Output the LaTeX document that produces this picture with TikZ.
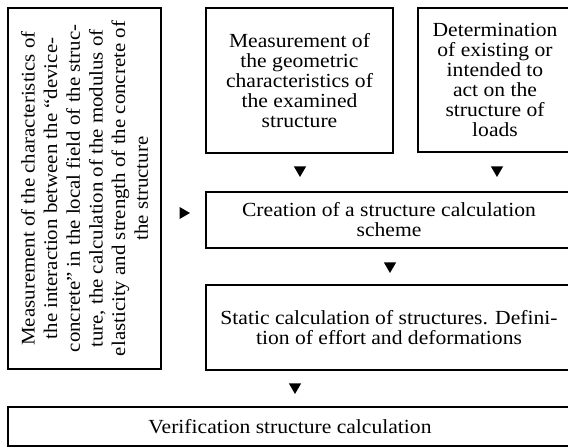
\documentclass[tikz,border=0pt]{standalone}
\usepackage{fontspec}
\setmainfont{Liberation Serif}[FakeStretch=1.08]
\usetikzlibrary{shapes.geometric}

\tikzset{
  stepbox/.style={draw, line width=2.2pt, align=center, inner sep=0pt,
    font=\fontsize{15}{15}\selectfont},
  tri/.style={fill, regular polygon, regular polygon sides=3, inner sep=0pt,
    minimum size=10.5pt, shape border rotate=180},
}

\begin{document}
\begin{tikzpicture}[x=0.75pt,y=-0.75pt]
    \useasboundingbox (0,0) rectangle (568,448);

    % boxes
    \node[stepbox, rotate=90, minimum width={361*0.75pt}, minimum height={153*0.75pt},
      font=\fontsize{14.5}{17}\selectfont]
      (meas) at (84.5,188.5) {Measurement of the characteristics of\\
      the interaction between the ``device-\\
      concrete'' in the local field of the struc-\\
      ture, the calculation of the modulus of\\
      elasticity and strength of the concrete of\\
      the structure};
    \node[stepbox, minimum width={187*0.75pt}, minimum height={145*0.75pt}]
      (geom) at (299.5,80.5) {Measurement of\\the geometric\\characteristics of\\the examined\\structure};
    \node[stepbox, minimum width={154*0.75pt}, minimum height={144*0.75pt}]
      (load) at (495,80) {Determination\\of existing or\\intended to\\act on the\\structure of\\loads};
    \node[stepbox, minimum width={366*0.75pt}, minimum height={56*0.75pt}]
      (scheme) at (389,220) {Creation of a structure calculation\\scheme};
    \node[stepbox, minimum width={366*0.75pt}, minimum height={85*0.75pt}]
      (static) at (389,327.5) {Static calculation of structures. Defini-\\tion of effort and deformations};
    \node[stepbox, minimum width={564*0.75pt}, minimum height={39*0.75pt}]
      (verif) at (290,426.5) {Verification structure calculation};

    % triangles
    \node[tri] (t1) at (300,170) {};
    \node[tri] (t2) at (497,170) {};
    \node[tri] (t3) at (390,266) {};
    \node[tri] (t4) at (295,387) {};
    \node[tri, shape border rotate=-90] (t5) at (183,213) {};

  \end{tikzpicture}
\end{document}
